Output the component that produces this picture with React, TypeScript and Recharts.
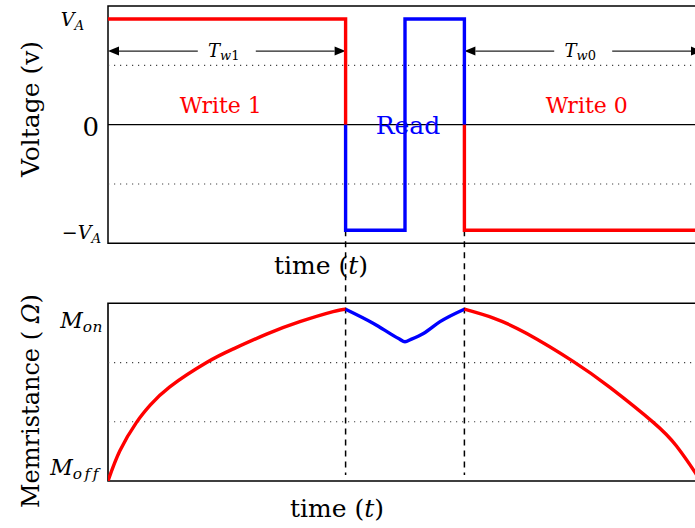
import React from 'react';
import {
  ComposedChart,
  Line,
  XAxis,
  YAxis,
  ReferenceLine,
  ReferenceArea,
  ReferenceDot,
} from 'recharts';

const FONT = '"DejaVu Serif", "Liberation Serif", serif';
const RED = '#ff0000';
const BLUE = '#0000ff';
const TRACE_W = 3.4;

// ---- Time axis -------------------------------------------------------------
const TIME_DOMAIN: [number, number] = [0, 10];
const READ_START = 4;
const READ_END = 6;

// ---- Voltage panel ---------------------------------------------------------
const V_A = 1.78;
const VOLT_DOMAIN: [number, number] = [-2, 2];
const voltTicks = [V_A, 0, -V_A];
const voltTickLabels = ['V|A', '0', '−V|A'];
const voltGrid = [1, -1];

const write1PulseT = [0, 4, 4];
const write1PulseV = [V_A, V_A, 0];
const readPulseT = [4, 4, 5, 5, 6, 6];
const readPulseV = [0, -V_A, -V_A, V_A, V_A, 0];
const write0PulseT = [6, 6, 10];
const write0PulseV = [0, -V_A, -V_A];

const phaseText = ['Write 1', 'Read', 'Write 0'];
const phaseT = [1.9, 5.05, 8.06];
const phaseV = [0.33, -0.02, 0.33];
const phaseColor = [RED, BLUE, RED];
const phaseSize = [22, 25, 22];

const spanStart = [0, 6];
const spanEnd = [4, 10];
const spanSub = ['w1', 'w0'];
const SPAN_LEVEL = 1.24;

// ---- Memristance panel -----------------------------------------------------
const MEM_DOMAIN: [number, number] = [0, 3];
const M_ON = 2.9;
const M_OFF = 0;
const memTicks = [M_ON, M_OFF];
const memTickLabels = ['M|on', 'M|off'];
const memGrid = [1, 2];

const write1MemT = [0, 0.2, 0.48, 0.71, 1.04, 1.66, 2.11, 2.67, 3.23, 3.79, 4];
const write1MemM = [0, 0.51, 0.99, 1.28, 1.59, 2.0, 2.23, 2.48, 2.69, 2.86, 2.9];
const readMemT = [4, 4.47, 4.9, 5, 5.1, 5.31, 5.59, 6];
const readMemM = [2.9, 2.66, 2.4, 2.35, 2.39, 2.49, 2.69, 2.9];
const write0MemT = [6, 6.49, 7.05, 7.83, 8.45, 9.18, 9.57, 9.88, 9.97];
const write0MemM = [2.9, 2.75, 2.49, 2.02, 1.58, 0.99, 0.59, 0.15, 0];

const zip = (ts: number[], ys: number[]) => ts.map((t, i) => ({ t, y: ys[i] }));

const DOTTED = { stroke: '#444', strokeWidth: 1.2, strokeDasharray: '1.2 4.8' };
const DASHED = { stroke: '#000', strokeWidth: 1.5, strokeDasharray: '6 5' };

// "X|sub" -> italic symbol with subscript
function MathLabel({ spec, size, subSpacing = 0 }: { spec: string; size: number; subSpacing?: number }) {
  const [base, sub] = spec.split('|');
  const minus = base.startsWith('−');
  const sym = minus ? base.slice(1) : base;
  return (
    <>
      {minus && <tspan>−</tspan>}
      <tspan fontStyle="italic">{sym}</tspan>
      {sub !== undefined && (
        <tspan fontStyle="italic" fontSize={size * 0.7} dy={size * 0.3} letterSpacing={subSpacing}>
          {sub}
        </tspan>
      )}
    </>
  );
}

function VoltTick(props: any) {
  const { x, y, payload, index } = props;
  const label = voltTickLabels[index] ?? String(payload.value);
  const isZero = label === '0';
  const right = [-24, -9, -7][index] ?? -8;
  const dy = [0, 2, 2][index] ?? 0;
  const size = isZero ? 26 : 19;
  return (
    <text
      x={x + right}
      y={y + dy}
      textAnchor="end"
      dominantBaseline="central"
      fontFamily={FONT}
      fontSize={size}
      fill="#000"
    >
      {isZero ? '0' : <MathLabel spec={label} size={size} />}
    </text>
  );
}

function MemTick(props: any) {
  const { x, y, payload, index } = props;
  const label = memTickLabels[index] ?? String(payload.value);
  const right = [-5, -7][index] ?? -6;
  const dy = [11, -14][index] ?? 0;
  const spacing = [0.5, 2.5][index] ?? 0;
  return (
    <text
      x={x + right}
      y={y + dy}
      textAnchor="end"
      dominantBaseline="central"
      fontFamily={FONT}
      fontSize={22}
      fill="#000"
    >
      <MathLabel spec={label} size={22} subSpacing={spacing} />
    </text>
  );
}

function XTitle(props: any) {
  const vb = props.viewBox ?? { x: 108, y: 0 };
  return (
    <text
      x={vb.x + props.ox}
      y={vb.y + props.oy}
      textAnchor="middle"
      dominantBaseline="central"
      fontFamily={FONT}
      fontSize={25}
      fill="#000"
    >
      <tspan>time (</tspan>
      <tspan fontStyle="italic">t</tspan>
      <tspan>)</tspan>
    </text>
  );
}

function YTitle(props: any) {
  const vb = props.viewBox ?? { x: 0, y: 0 };
  const cx = vb.x + props.ox;
  const cy = vb.y + props.oy;
  return (
    <text
      x={cx}
      y={cy}
      transform={`rotate(-90 ${cx} ${cy})`}
      textAnchor="middle"
      dominantBaseline="central"
      fontFamily={FONT}
      fontSize={props.size}
      fill="#000"
    >
      {props.children}
    </text>
  );
}

function SpanArrow(props: any) {
  const { x1, y1, x2, sub } = props;
  if (x1 == null || x2 == null) return <g />;
  const y = y1;
  const cx = (x1 + x2) / 2;
  const gap = 29;
  const head = 11;
  const half = 4.5;
  const digit = sub.slice(1);
  return (
    <g>
      <line x1={x1 + head} y1={y} x2={cx - gap} y2={y} stroke="#222" strokeWidth={1.1} />
      <line x1={cx + gap} y1={y} x2={x2 - head} y2={y} stroke="#222" strokeWidth={1.1} />
      <polygon points={`${x1},${y} ${x1 + head},${y - half} ${x1 + head},${y + half}`} fill="#000" />
      <polygon points={`${x2},${y} ${x2 - head},${y - half} ${x2 - head},${y + half}`} fill="#000" />
      <text
        x={cx - 3}
        y={y - 1.5}
        textAnchor="middle"
        dominantBaseline="central"
        fontFamily={FONT}
        fontSize={18}
        fill="#000"
      >
        <tspan fontStyle="italic">T</tspan>
        <tspan fontStyle="italic" fontSize={13} dy={5}>w</tspan>
        <tspan fontSize={13}>{digit}</tspan>
      </text>
    </g>
  );
}

function PhaseText(props: any) {
  const { cx, cy, i } = props;
  if (cx == null) return <g />;
  return (
    <text
      x={cx}
      y={cy}
      textAnchor="middle"
      dominantBaseline="central"
      fontFamily={FONT}
      fontSize={phaseSize[i]}
      fill={phaseColor[i]}
    >
      {phaseText[i]}
    </text>
  );
}

const CHART_W = 720;
const MARGIN_R = 18;
const AXIS_W = 108;

function VoltagePanel() {
  return (
    <ComposedChart
      width={CHART_W}
      height={290}
      margin={{ top: 6, right: MARGIN_R, bottom: 0, left: 0 }}
    >
      <XAxis
        type="number"
        dataKey="t"
        domain={TIME_DOMAIN}
        allowDataOverflow
        tick={false}
        tickLine={false}
        axisLine={false}
        height={46.7}
        label={<XTitle ox={213} oy={22} />}
      />
      <YAxis
        type="number"
        domain={VOLT_DOMAIN}
        allowDataOverflow
        ticks={voltTicks}
        interval={0}
        tick={(p: any) => <VoltTick {...p} />}
        tickLine={false}
        axisLine={false}
        tickSize={0}
        tickMargin={0}
        width={AXIS_W}
        label={
          <YTitle ox={30} oy={103} size={25}>
            Voltage (v)
          </YTitle>
        }
      />
      {voltGrid.map((g) => (
        <ReferenceLine key={g} y={g} {...DOTTED} />
      ))}
      <ReferenceLine y={0} stroke="#000" strokeWidth={1.3} />
      <ReferenceArea
        x1={TIME_DOMAIN[0]}
        x2={TIME_DOMAIN[1]}
        y1={VOLT_DOMAIN[0]}
        y2={VOLT_DOMAIN[1]}
        fill="none"
        fillOpacity={0}
        stroke="#000"
        strokeWidth={1.5}
        ifOverflow="visible"
      />
      {[READ_START, READ_END].map((t) => (
        <ReferenceLine
          key={`c${t}`}
          segment={[
            { x: t, y: -V_A },
            { x: t, y: -2.8 },
          ]}
          ifOverflow="visible"
          {...DASHED}
        />
      ))}
      {spanStart.map((s, i) => (
        <ReferenceLine
          key={`s${i}`}
          segment={[
            { x: s, y: SPAN_LEVEL },
            { x: spanEnd[i], y: SPAN_LEVEL },
          ]}
          ifOverflow="visible"
          shape={(p: any) => <SpanArrow {...p} sub={spanSub[i]} />}
        />
      ))}
      {phaseText.map((txt, i) => (
        <ReferenceDot
          key={txt}
          x={phaseT[i]}
          y={phaseV[i]}
          r={0}
          ifOverflow="visible"
          shape={(p: any) => <PhaseText {...p} i={i} />}
        />
      ))}
      <Line
        data={zip(write1PulseT, write1PulseV)}
        dataKey="y"
        type="linear"
        stroke={RED}
        strokeWidth={TRACE_W}
        dot={false}
        activeDot={false}
        isAnimationActive={false}
      />
      <Line
        data={zip(readPulseT, readPulseV)}
        dataKey="y"
        type="linear"
        stroke={BLUE}
        strokeWidth={TRACE_W}
        dot={false}
        activeDot={false}
        isAnimationActive={false}
      />
      <Line
        data={zip(write0PulseT, write0PulseV)}
        dataKey="y"
        type="linear"
        stroke={RED}
        strokeWidth={TRACE_W}
        dot={false}
        activeDot={false}
        isAnimationActive={false}
      />
    </ComposedChart>
  );
}

function MemristancePanel() {
  return (
    <ComposedChart
      width={CHART_W}
      height={238}
      margin={{ top: 13.3, right: MARGIN_R, bottom: 0, left: 0 }}
    >
      <XAxis
        type="number"
        dataKey="t"
        domain={TIME_DOMAIN}
        allowDataOverflow
        tick={false}
        tickLine={false}
        axisLine={false}
        height={47}
        label={<XTitle ox={229} oy={27} />}
      />
      <YAxis
        type="number"
        domain={MEM_DOMAIN}
        allowDataOverflow
        ticks={memTicks}
        interval={0}
        tick={(p: any) => <MemTick {...p} />}
        tickLine={false}
        axisLine={false}
        tickSize={0}
        tickMargin={0}
        width={AXIS_W}
        label={
          <YTitle ox={31} oy={97.7} size={24}>
            <tspan>Memristance ( </tspan>
            <tspan fontStyle="italic">Ω</tspan>
            <tspan>)</tspan>
          </YTitle>
        }
      />
      {memGrid.map((g) => (
        <ReferenceLine key={g} y={g} {...DOTTED} />
      ))}
      <ReferenceArea
        x1={TIME_DOMAIN[0]}
        x2={TIME_DOMAIN[1]}
        y1={MEM_DOMAIN[0]}
        y2={MEM_DOMAIN[1]}
        fill="none"
        fillOpacity={0}
        stroke="#000"
        strokeWidth={1.6}
        ifOverflow="visible"
      />
      {[READ_START, READ_END].map((t) => (
        <ReferenceLine
          key={`c${t}`}
          segment={[
            { x: t, y: 3.3 },
            { x: t, y: 0.1 },
          ]}
          ifOverflow="visible"
          {...DASHED}
        />
      ))}
      <Line
        data={zip(write1MemT, write1MemM)}
        dataKey="y"
        type="natural"
        stroke={RED}
        strokeWidth={TRACE_W}
        dot={false}
        activeDot={false}
        isAnimationActive={false}
      />
      <Line
        data={zip(readMemT, readMemM)}
        dataKey="y"
        type="monotone"
        stroke={BLUE}
        strokeWidth={TRACE_W}
        dot={false}
        activeDot={false}
        isAnimationActive={false}
      />
      <Line
        data={zip(write0MemT, write0MemM)}
        dataKey="y"
        type="natural"
        stroke={RED}
        strokeWidth={TRACE_W}
        dot={false}
        activeDot={false}
        isAnimationActive={false}
      />
    </ComposedChart>
  );
}

export default function App() {
  return (
    <div
      style={{
        position: 'absolute',
        left: 0,
        top: 0,
        width: 695,
        height: 528,
        overflow: 'hidden',
        background: '#fff',
      }}
    >
      <div style={{ position: 'absolute', left: 0, top: 0 }}>
        <VoltagePanel />
      </div>
      <div style={{ position: 'absolute', left: 0, top: 290 }}>
        <MemristancePanel />
      </div>
    </div>
  );
}
